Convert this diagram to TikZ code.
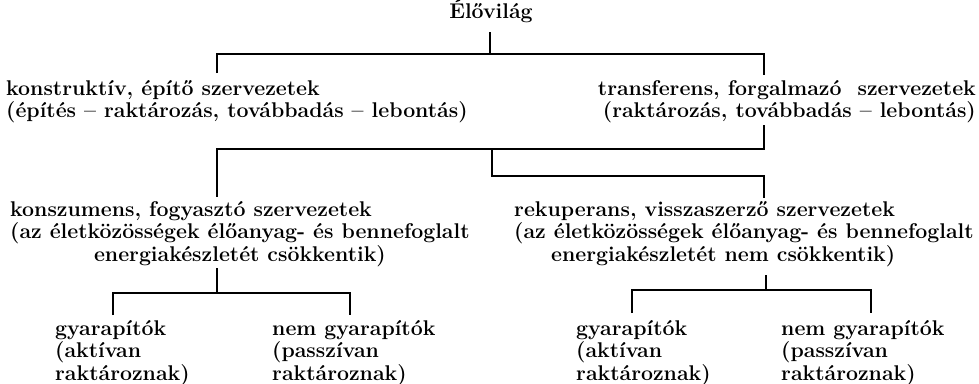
\documentclass[tikz,border=0pt]{standalone}
\usepackage{fontspec}
\begin{document}
\begin{tikzpicture}[x=1pt,y=-1pt,
  txt/.style={inner sep=0pt, font=\fontsize{21.3}{22.5}\selectfont\bfseries},
  conn/.style={line width=2.8pt}]
\useasboundingbox (0,0) rectangle (979,383);
% texts
\node[txt, anchor=base] (root) at (491,18) {Élővilág};
\node[txt, anchor=base west] (konst) at (6,95) {\begin{tabular}[t]{@{}l@{}}konstruktív, építő szervezetek\\(építés -- raktározás, továbbadás -- lebontás)\end{tabular}};
\node[txt, anchor=base east] (trans) at (976,95) {\begin{tabular}[t]{@{}r@{}}transferens, forgalmazó\ \ szervezetek\\(raktározás, továbbadás -- lebontás)\end{tabular}};
\node[txt, anchor=base west] (konsz) at (10,216) {\begin{tabular}[t]{@{}l@{}}konszumens, fogyasztó szervezetek\\(az életközösségek élőanyag- és bennefoglalt\\\multicolumn{1}{@{}c@{}}{energiakészletét csökkentik)}\end{tabular}};
\node[txt, anchor=base west] (rekup) at (514,216) {\begin{tabular}[t]{@{}l@{}}rekuperans, visszaszerző szervezetek\\(az életközösségek élőanyag- és bennefoglalt\\\hspace*{37pt}energiakészletét nem csökkentik)\end{tabular}};
\node[txt, anchor=base west] (gy1) at (55,335) {\begin{tabular}[t]{@{}l@{}}gyarapítók\\(aktívan\\raktároznak)\end{tabular}};
\node[txt, anchor=base west] (ngy1) at (272,335) {\begin{tabular}[t]{@{}l@{}}nem gyarapítók\\(passzívan\\raktároznak)\end{tabular}};
\node[txt, anchor=base west] (gy2) at (576,335) {\begin{tabular}[t]{@{}l@{}}gyarapítók\\(aktívan\\raktároznak)\end{tabular}};
\node[txt, anchor=base west] (ngy2) at (781,335) {\begin{tabular}[t]{@{}l@{}}nem gyarapítók\\(passzívan\\raktároznak)\end{tabular}};
% junction points
\coordinate (rootS) at (490,32);
\coordinate (b1L) at (217,54); \coordinate (b1R) at (764,54);
\coordinate (konstN) at (217,73); \coordinate (transN) at (764,75);
\coordinate (transS) at (764,125);
\coordinate (b2L) at (217,149); \coordinate (b2R) at (764,149); \coordinate (b2M) at (492,149);
\coordinate (b3L) at (492,176); \coordinate (b3R) at (764,176);
\coordinate (konszN) at (217,197); \coordinate (rekupN) at (764,198);
\coordinate (konszS) at (217,268); \coordinate (b4L) at (113,293); \coordinate (b4R) at (350,293);
\coordinate (gy1N) at (113,315); \coordinate (ngy1N) at (350,315);
\coordinate (rekupS) at (766,275); \coordinate (b5L) at (632,290); \coordinate (b5R) at (871,290);
\coordinate (gy2N) at (632,313); \coordinate (ngy2N) at (871,313);
% connectors
\draw[conn] (rootS) -- (rootS |- b1L);
\draw[conn] (konstN) -- (b1L) -- (b1R) -- (transN);
\draw[conn] (transS) -- (b2R) -- (b2L) -- (konszN);
\draw[conn] (b2M) -- (b3L) -- (b3R) -- (rekupN);
\draw[conn] (konszS) -- (konszS |- b4L);
\draw[conn] (gy1N) -- (b4L) -- (b4R) -- (ngy1N);
\draw[conn] (rekupS) -- (rekupS |- b5L);
\draw[conn] (gy2N) -- (b5L) -- (b5R) -- (ngy2N);
\end{tikzpicture}
\end{document}
